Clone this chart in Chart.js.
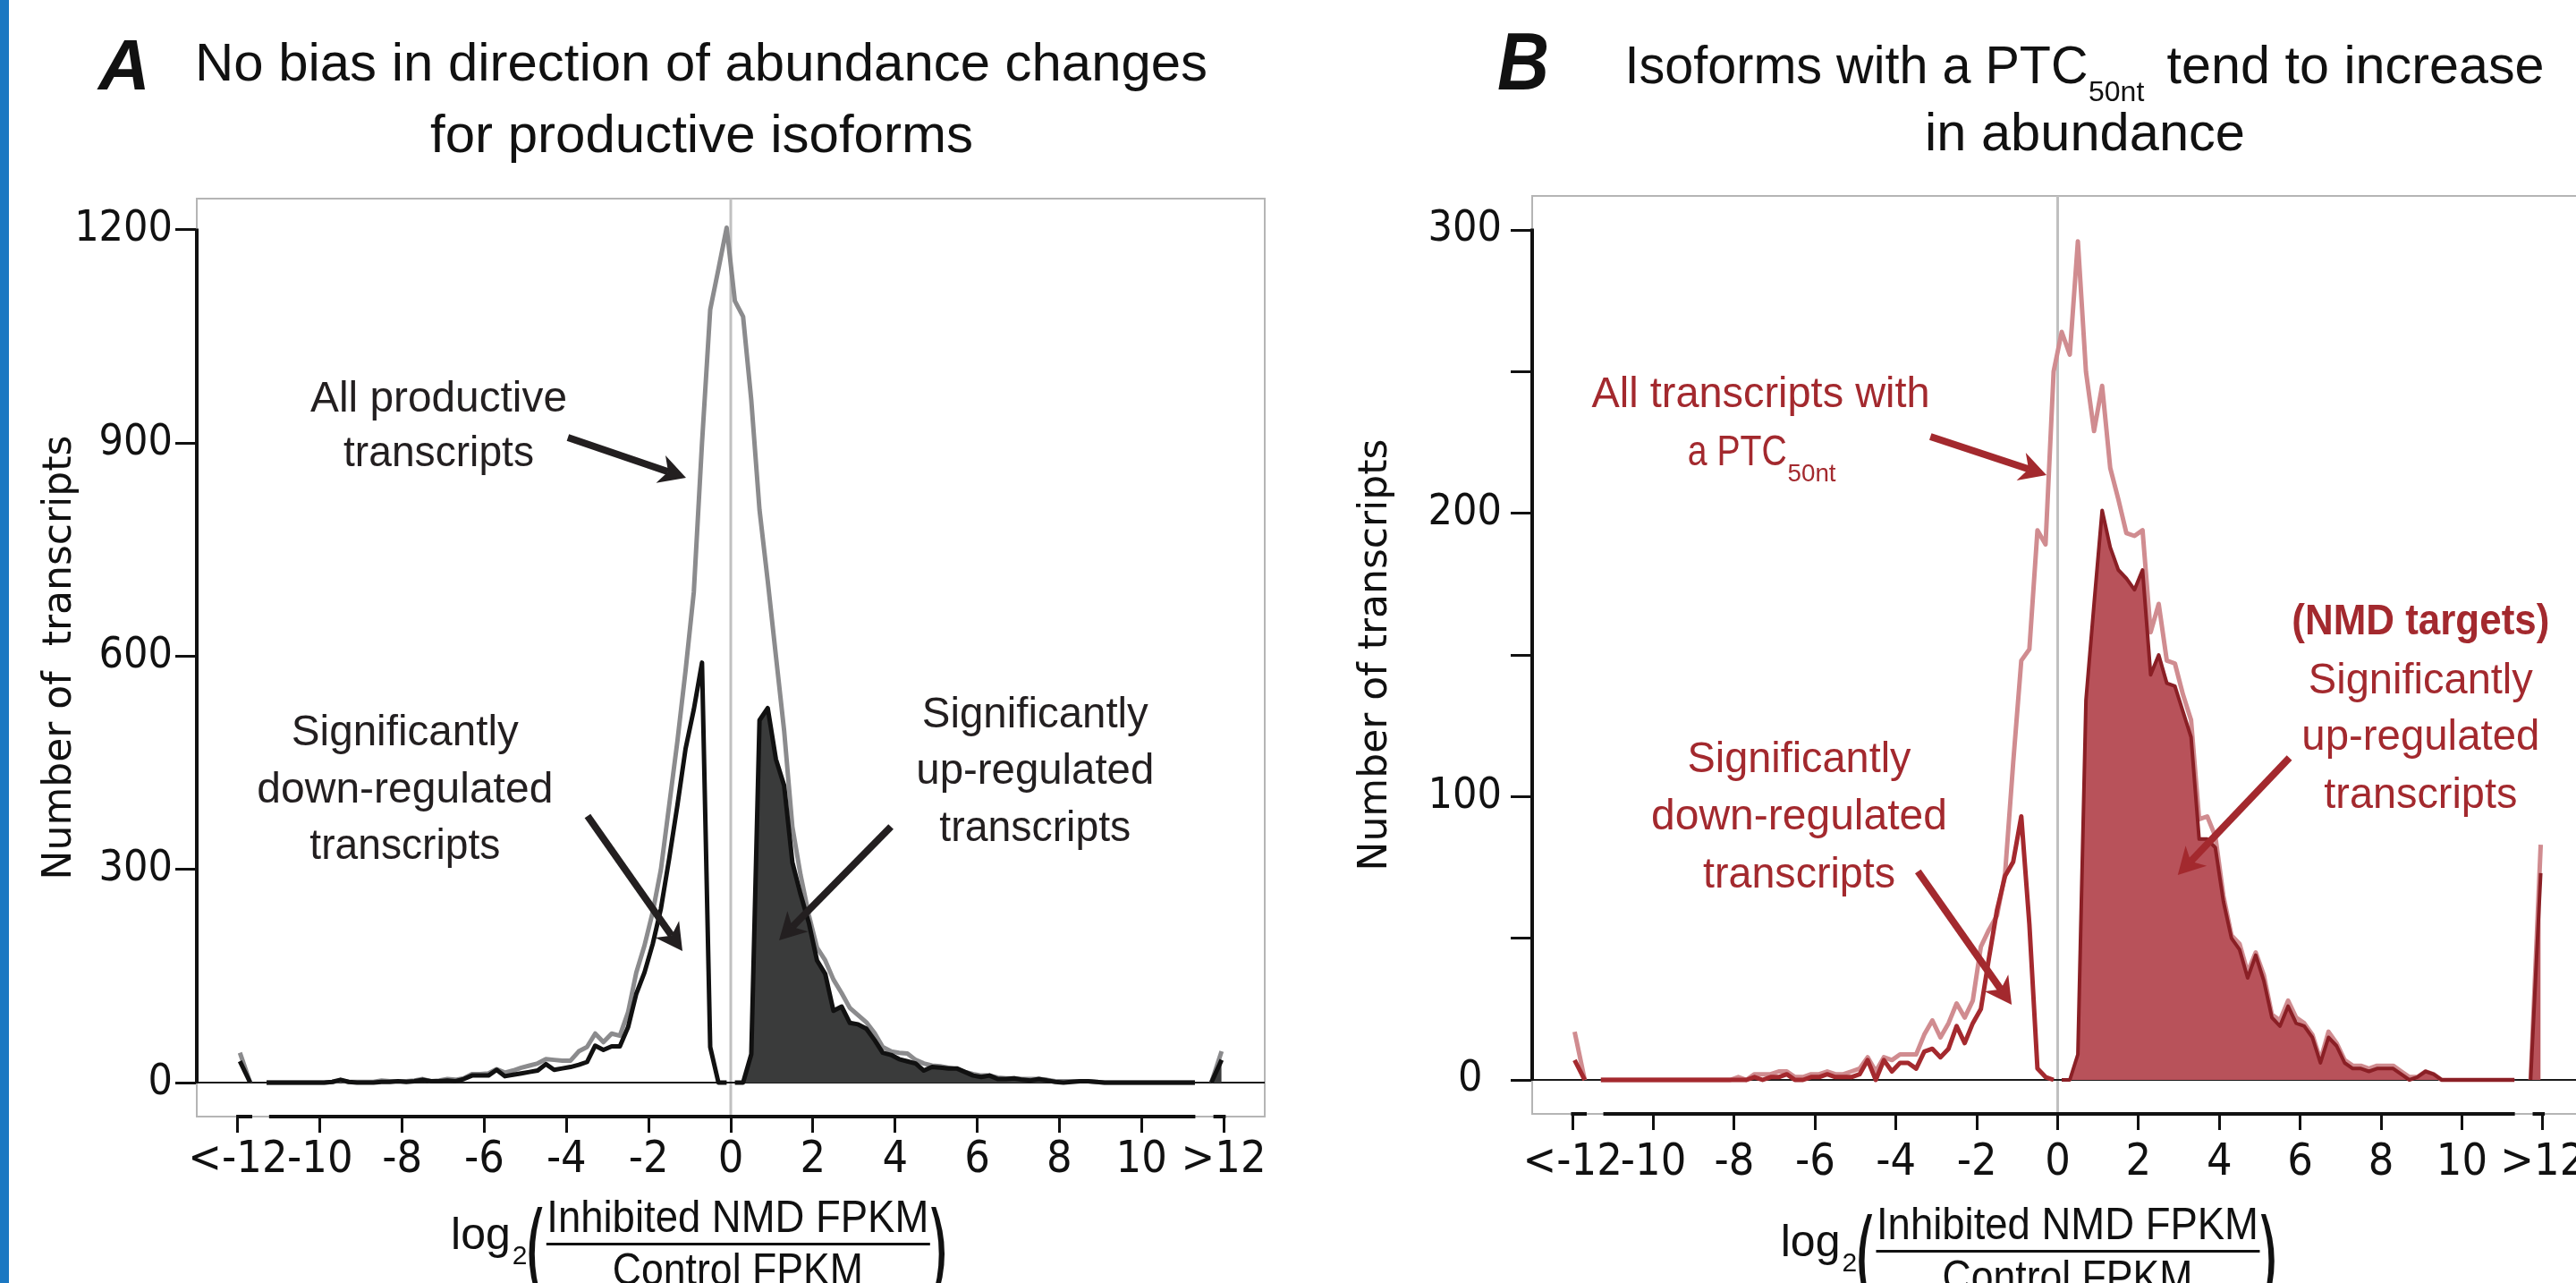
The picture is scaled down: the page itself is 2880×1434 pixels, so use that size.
<!DOCTYPE html>
<html>
<head>
<meta charset="utf-8">
<script src="https://cdn.jsdelivr.net/npm/chart.js@4.4.0/dist/chart.umd.min.js"></script>
<style>
html, body { margin: 0; padding: 0; background: #fff; width: 2880px; height: 1434px; overflow: hidden; position: relative; }
#edge { position: absolute; left: 0; top: 0; width: 10px; height: 1434px; background: #1b78c2; }
#panelA { position: absolute; left: 0; top: 0; }
#panelB { position: absolute; left: 1440px; top: 0; }
</style>
</head>
<body>
<canvas id="panelA" width="1440" height="1434"></canvas>
<canvas id="panelB" width="1460" height="1434"></canvas>
<div id="edge"></div>
<script>
// ---- DATA (histogram bin centres, log2 fold change) ----
const binsLeft = [-11.3,
  -9.9, -9.7, -9.5, -9.3, -9.1, -8.9, -8.7, -8.5, -8.3, -8.1,
  -7.9, -7.7, -7.5, -7.3, -7.1, -6.9, -6.7, -6.5, -6.3, -6.1,
  -5.9, -5.7, -5.5, -5.3, -5.1, -4.9, -4.7, -4.5, -4.3, -4.1,
  -3.9, -3.7, -3.5, -3.3, -3.1, -2.9, -2.7, -2.5, -2.3, -2.1,
  -1.9, -1.7, -1.5, -1.3, -1.1, -0.9, -0.7, -0.5, -0.3, -0.1];
const binsRight = [
  0.1, 0.3, 0.5, 0.7, 0.9, 1.1, 1.3, 1.5, 1.7, 1.9,
  2.1, 2.3, 2.5, 2.7, 2.9, 3.1, 3.3, 3.5, 3.7, 3.9,
  4.1, 4.3, 4.5, 4.7, 4.9, 5.1, 5.3, 5.5, 5.7, 5.9,
  6.1, 6.3, 6.5, 6.7, 6.9, 7.1, 7.3, 7.5, 7.7, 7.9,
  8.1, 8.3, 8.5, 8.7, 8.9, 9.1, 9.3, 9.5, 11.3];
// the "<-12" and ">12" overflow bins, drawn as short pieces past the axis break
const stubLeftX = [-11.95, -11.7];
const stubRightX = [11.7, 11.95];

// panel A : productive isoforms
const allProdLeft = [0,
  0, 1, 3, 1, 1, 1, 1, 3, 2, 2,
  2, 3, 5, 2, 3, 5, 4, 6, 12, 12,
  13, 19, 14, 17, 21, 24, 27, 33, 32, 31,
  31, 44, 50, 69, 57, 69, 66, 99, 155, 193,
  240, 300, 390, 480, 580, 690, 900, 1088, 1145, 1203];
const allProdRight = [
  1100, 1078, 960, 806, 706, 600, 495, 360, 292, 236,
  190, 172, 145, 126, 105, 95, 85, 70, 50, 44,
  42, 41, 32, 27, 24, 23, 21, 19, 15, 12,
  10, 10, 7, 6, 6, 5, 5, 5, 4, 2,
  2, 2, 2, 2, 1, 0, 0, 0, 0];
const allProdStubs = [[42, 0], [0, 44]];
const downProd = [0,
  0, 1, 4, 1, 0, 0, 0, 1, 1, 2,
  1, 2, 4, 2, 2, 3, 2, 5, 10, 10,
  10, 18, 9, 11, 13, 15, 17, 26, 18, 20,
  22, 25, 29, 52, 46, 51, 51, 78, 125, 155,
  195, 245, 315, 390, 470, 525, 591, 50, 0, 0];
const upProd = [
  0, 0, 40, 510, 527, 455, 418, 310, 265, 225,
  172, 153, 101, 107, 84, 82, 76, 60, 42, 39,
  33, 30, 27, 17, 22, 21, 20, 20, 15, 10,
  8, 10, 5, 5, 6, 4, 3, 5, 3, 1,
  0, 1, 2, 2, 1, 0, 0, 0, 0];
const downProdStub = [30, 0];
const upProdStub = [0, 32];

// panel B : isoforms with a PTC50nt
const allPtcLeft = [0,
  0, 0, 0, 0, 0, 0, 0, 0, 0, 0,
  1, 0, 2, 2, 2, 3, 3, 1, 1, 2,
  2, 3, 2, 2, 3, 4, 8, 3, 8, 7,
  9, 9, 9, 16, 21, 15, 20, 27, 22, 28,
  47, 53, 58, 73, 112, 148, 152, 194, 189, 250];
const allPtcRight = [
  264, 256, 296, 250, 229, 245, 216, 205, 193, 192,
  194, 158, 168, 148, 147, 136, 127, 92, 93, 86,
  65, 51, 48, 38, 45, 37, 23, 21, 28, 22,
  20, 16, 7, 17, 13, 7, 5, 5, 4, 5,
  5, 5, 3, 1, 1, 3, 2, 0, 0];
const allPtcStubs = [[17, 0], [0, 83]];
const downPtc = [0,
  0, 0, 0, 0, 0, 0, 0, 0, 0, 0,
  0, 0, 1, 0, 1, 1, 2, 0, 0, 1,
  1, 2, 1, 1, 1, 2, 7, 0, 7, 3,
  6, 6, 4, 10, 11, 8, 11, 19, 13, 20,
  25, 43, 60, 72, 77, 93, 55, 4, 1, 0];
const upPtc = [
  0, 0, 9, 134, 168, 201, 188, 180, 177, 173,
  180, 143, 150, 140, 139, 130, 121, 85, 85, 82,
  63, 50, 46, 36, 44, 35, 22, 19, 26, 20,
  19, 15, 6, 15, 12, 6, 4, 4, 3, 4,
  4, 4, 2, 0, 1, 3, 2, 0, 0];
const downPtcStub = [7, 0];
const upPtcStub = [0, 73];

const xTickValues = [-12, -10, -8, -6, -4, -2, 0, 2, 4, 6, 8, 10, 12];
const yTicksA = [0, 300, 600, 900, 1200];
const yTicksB = [0, 50, 100, 150, 200, 250, 300];
// ---------------------------------------------------------

const SANS = '"Liberation Sans", Arial, sans-serif';
const NARROW = '"Liberation Sans Narrow", "Arial Narrow", "DejaVu Sans Condensed", sans-serif';

const pts = (xs, ys) => xs.map((x, i) => ({x: x, y: ys[i]}));
const gap = x => ({x: x, y: null});

function xTickLabel(v) {
  if (v === -12) return '<-12';
  if (v === 12) return '>12';
  return String(v);
}

function line(ctx, x1, y1, x2, y2) {
  ctx.beginPath(); ctx.moveTo(x1, y1); ctx.lineTo(x2, y2); ctx.stroke();
}

function text(ctx, s, x, y, size, opts) {
  opts = opts || {};
  ctx.font = (opts.bold ? 'bold ' : '') + (opts.italic ? 'italic ' : '') + size + 'px ' + (opts.family || SANS);
  ctx.fillStyle = opts.color || '#231f20';
  ctx.textAlign = opts.align || 'center';
  ctx.textBaseline = 'alphabetic';
  if (opts.w) ctx.fillText(s, x, y, opts.w); else ctx.fillText(s, x, y);
}

function arrow(ctx, x1, y1, x2, y2, color) {
  const ang = Math.atan2(y2 - y1, x2 - x1), head = 34, spread = 0.5;
  const bx = x2 - Math.cos(ang) * head * 0.62, by = y2 - Math.sin(ang) * head * 0.62;
  ctx.strokeStyle = color; ctx.fillStyle = color; ctx.lineWidth = 8; ctx.lineCap = 'butt';
  line(ctx, x1, y1, bx, by);
  ctx.beginPath();
  ctx.moveTo(x2, y2);
  ctx.lineTo(x2 - head * Math.cos(ang - spread), y2 - head * Math.sin(ang - spread));
  ctx.lineTo(bx, by);
  ctx.lineTo(x2 - head * Math.cos(ang + spread), y2 - head * Math.sin(ang + spread));
  ctx.closePath(); ctx.fill();
}

// box, zero line, broken x axis, titles and annotations
const panelDecor = {
  id: 'panelDecor',
  beforeDatasetsDraw(chart, args, o) {
    const {ctx, chartArea: a, scales: {x, y}} = chart;
    ctx.save();
    ctx.strokeStyle = '#b5b5b5'; ctx.lineWidth = 2;
    ctx.strokeRect(a.left, a.top, a.right - a.left, a.bottom - a.top);
    const x0 = x.getPixelForValue(0);
    ctx.strokeStyle = '#c0c0c0'; ctx.lineWidth = 3;
    line(ctx, x0, a.top, x0, a.bottom);
    const y0 = y.getPixelForValue(0);
    ctx.strokeStyle = '#1a1a1a'; ctx.lineWidth = 2;
    line(ctx, a.left, y0, a.right, y0);
    ctx.restore();
  },
  afterDraw(chart, args, o) {
    const {ctx, chartArea: a, scales: {x, y}} = chart;
    ctx.save();
    // y axis line only from 0 to the top tick
    ctx.strokeStyle = '#111'; ctx.lineWidth = 4; ctx.lineCap = 'butt';
    line(ctx, a.left, y.getPixelForValue(0) + 1, a.left, y.getPixelForValue(o.yTop) - 1.5);
    // broken x axis
    o.xSegments.forEach(s => line(ctx, x.getPixelForValue(s[0]), a.bottom, x.getPixelForValue(s[1]), a.bottom));

    // panel letter and title
    text(ctx, o.letter.t, o.letter.x, o.letter.y, o.letter.size, {bold: true, italic: true, align: 'left', color: '#111', w: o.letter.w});
    o.title.forEach(t => text(ctx, t.t, t.x, t.y, t.size || 60, {align: t.align || 'center', w: t.w, color: '#111'}));

    // annotations (positions in data units)
    o.notes.forEach(n => text(ctx, n.t, x.getPixelForValue(n.x), y.getPixelForValue(n.y), n.size || 49,
      {bold: n.bold, align: n.align || 'center', w: n.w, color: o.ink}));
    o.arrows.forEach(r => arrow(ctx, x.getPixelForValue(r[0]), y.getPixelForValue(r[1]),
      x.getPixelForValue(r[2]), y.getPixelForValue(r[3]), o.ink));

    // x axis title: log2(Inhibited NMD FPKM / Control FPKM)
    const cx = x.getPixelForValue(o.xTitle.cx), by = a.bottom + o.xTitle.dy;
    const ink = '#111';
    text(ctx, 'log', cx - 254, by + 19, 50, {align: 'right', color: ink});
    text(ctx, '2', cx - 252, by + 36, 30, {align: 'left', color: ink});
    text(ctx, '(', cx - 226, by + 62, 117, {family: NARROW, color: ink, w: 26});
    text(ctx, ')', cx + 224, by + 62, 117, {family: NARROW, color: ink, w: 26});
    text(ctx, 'Inhibited NMD FPKM', cx, by, 50, {color: ink, w: 427});
    ctx.fillStyle = ink;
    ctx.fillRect(cx - 214, by + 12, 429, 3);
    text(ctx, 'Control FPKM', cx, by + 59, 50, {color: ink, w: 280});
    ctx.restore();
  }
};

function lineSet(data, color, extra) {
  return Object.assign({data: data, borderColor: color, borderWidth: 5, pointRadius: 0,
    tension: 0, spanGaps: false, fill: false, borderJoinStyle: 'round'}, extra || {});
}

function panelOptions(p) {
  return {
    responsive: false,
    animation: false,
    devicePixelRatio: 1,
    layout: {padding: {top: p.top, right: p.right, left: 0, bottom: 0}},
    plugins: {legend: {display: false}, tooltip: {enabled: false}, panelDecor: p.decor},
    scales: {
      x: {
        type: 'linear', min: -13, max: 13,
        afterBuildTicks: s => { s.ticks = xTickValues.map(v => ({value: v})); },
        afterFit: s => { s.height = p.xAxisHeight; },
        ticks: {autoSkip: false, maxRotation: 0, minRotation: 0, color: '#111', padding: p.xPad,
          font: {family: NARROW, size: 50}, callback: v => xTickLabel(v)},
        grid: {drawOnChartArea: false, drawTicks: true, tickLength: 18, tickWidth: 3, tickColor: '#111'},
        border: {display: false}
      },
      y: {
        type: 'linear', min: p.yMin, max: p.yMax,
        afterBuildTicks: s => { s.ticks = p.yTicks.map(v => ({value: v})); },
        afterFit: s => { s.width = p.yAxisWidth; },
        ticks: {autoSkip: false, color: '#111', padding: p.yPad, font: {family: NARROW, size: 48},
          callback: v => (v % p.yLabelStep === 0 ? String(v) + (v === 0 ? p.zeroPad : '') : '')},
        grid: {drawOnChartArea: false, drawTicks: true, tickLength: 24, tickWidth: 3, tickColor: '#111'},
        border: {display: false},
        title: {display: true, text: p.yTitle, color: '#111',
          font: {family: '"DejaVu Sans", sans-serif', size: 44, lineHeight: 1},
          padding: {top: p.yTitlePad, bottom: 0}}
      }
    }
  };
}

// ---- panel A ----
const chartA = new Chart(document.getElementById('panelA'), {
  type: 'line',
  data: {
    datasets: [
      lineSet(pts(binsRight, upProd).concat([gap(11.5)], pts(stubRightX, upProdStub)), '#111',
        {fill: 'origin', backgroundColor: '#3a3b3b'}),
      lineSet(pts(stubLeftX, downProdStub).concat([gap(-11.5)], pts(binsLeft, downProd)), '#111'),
      lineSet(pts(stubLeftX, allProdStubs[0]).concat([gap(-11.5)], pts(binsLeft, allProdLeft),
        pts(binsRight, allProdRight), [gap(11.5)], pts(stubRightX, allProdStubs[1])), '#8b8b8d')
    ]
  },
  options: panelOptions({
    top: 222, right: 26, xAxisHeight: 186, yAxisWidth: 220, xPad: 1, yPad: 3, zeroPad: '',
    yMin: -47.8, yMax: 1244, yTicks: yTicksA, yLabelStep: 300,
    yTitle: 'Number of  transcripts', yTitlePad: 46,
    decor: {
      yTop: 1200,
      xSegments: [[-12.04, -11.65], [-11.24, 11.31], [11.75, 12.05]],
      ink: '#231f20',
      letter: {t: 'A', x: 110, y: 100, size: 80},
      title: [
        {t: 'No bias in direction of abundance changes', x: 784, y: 90, w: 1132},
        {t: 'for productive isoforms', x: 784.5, y: 170, w: 617}
      ],
      notes: [
        {t: 'All productive', x: -7.11, y: 944, w: 287},
        {t: 'transcripts', x: -7.11, y: 867, w: 213},
        {t: 'Significantly', x: -7.93, y: 475, w: 254},
        {t: 'down-regulated', x: -7.93, y: 394, w: 331},
        {t: 'transcripts', x: -7.93, y: 315, w: 213},
        {t: 'Significantly', x: 7.41, y: 500, w: 253},
        {t: 'up-regulated', x: 7.41, y: 420, w: 266},
        {t: 'transcripts', x: 7.41, y: 340, w: 214}
      ],
      arrows: [
        [-3.965, 907.8, -1.089, 851.2],
        [-3.486, 375.2, -1.176, 185.1],
        [3.90, 360.1, 1.176, 200.2]
      ],
      xTitle: {cx: 0.17, dy: 129}
    }
  }),
  plugins: [panelDecor]
});

// ---- panel B ----
const chartB = new Chart(document.getElementById('panelB'), {
  type: 'line',
  data: {
    datasets: [
      lineSet(pts(binsRight, upPtc).concat([gap(11.5)], pts(stubRightX, upPtcStub)), '#8a1f25',
        {fill: 'origin', backgroundColor: '#b8525a', borderWidth: 4}),
      lineSet(pts(stubLeftX, downPtcStub).concat([gap(-11.5)], pts(binsLeft, downPtc)), '#a4292e'),
      lineSet(pts(stubLeftX, allPtcStubs[0]).concat([gap(-11.5)], pts(binsLeft, allPtcLeft),
        pts(binsRight, allPtcRight), [gap(11.5)], pts(stubRightX, allPtcStubs[1])), '#d08c90')
    ]
  },
  options: panelOptions({
    top: 219, right: 12, xAxisHeight: 189, yAxisWidth: 273, xPad: 7, yPad: 10, zeroPad: '\u2002',
    yMin: -12, yMax: 312, yTicks: yTicksB, yLabelStep: 100,
    yTitle: 'Number of transcripts', yTitlePad: 77,
    decor: {
      yTop: 300,
      xSegments: [[-12.04, -11.65], [-11.24, 11.31], [11.75, 12.05]],
      ink: '#a3292e',
      letter: {t: 'B', x: 234, y: 100, size: 90, w: 58},
      title: [
        {t: 'Isoforms with a PTC', x: 376.5, y: 93, w: 518, align: 'left'},
        {t: '50nt', x: 895, y: 113, w: 71, size: 32, align: 'left'},
        {t: 'tend to increase', x: 982.6, y: 93, w: 422, align: 'left'},
        {t: 'in abundance', x: 891, y: 168, w: 358}
      ],
      notes: [
        {t: 'All transcripts with', x: -7.345, y: 237.6, w: 378},
        {t: 'a PTC', x: -9.156, y: 216.9, w: 111, align: 'left'},
        {t: '50nt', x: -6.682, y: 211.3, w: 54, size: 28, align: 'left'},
        {t: 'Significantly', x: -6.395, y: 108.6, w: 250},
        {t: 'down-regulated', x: -6.395, y: 88.4, w: 331},
        {t: 'transcripts', x: -6.395, y: 67.9, w: 215},
        {t: '(NMD targets)', x: 8.98, y: 157.3, w: 288, bold: true},
        {t: 'Significantly', x: 8.98, y: 136.4, w: 251},
        {t: 'up-regulated', x: 8.98, y: 116.6, w: 266},
        {t: 'transcripts', x: 8.98, y: 96.0, w: 216}
      ],
      arrows: [
        [-3.148, 227.05, -0.276, 213.5],
        [-3.457, 73.6, -1.138, 26.5],
        [5.732, 113.7, 2.971, 72.3]
      ],
      xTitle: {cx: 0.243, dy: 140}
    }
  }),
  plugins: [panelDecor]
});
</script>
</body>
</html>
